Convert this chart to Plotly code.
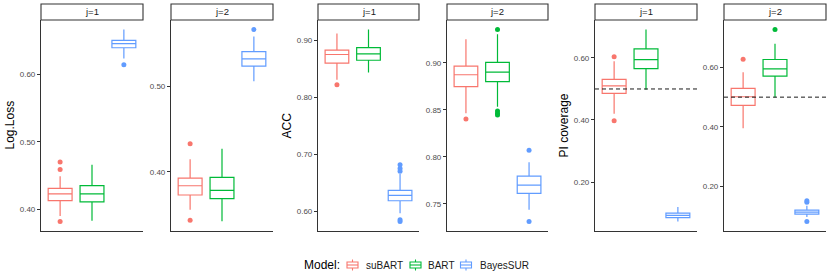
import plotly.graph_objects as go

models = ["suBART", "BART", "BayesSUR"]
colors = ["#F8766D", "#00BA38", "#619CFF"]

metrics = ["Log.Loss", "ACC", "PI coverage"]
facets = ["j=1", "j=2"]

# Box statistics per panel: [suBART, BART, BayesSUR]
# Panel order: Log.Loss j=1, Log.Loss j=2, ACC j=1, ACC j=2, PI j=1, PI j=2
q1 = [
    [0.413, 0.411, 0.639],
    [0.3727, 0.3684, 0.524],
    [0.8598, 0.865, 0.6187],
    [0.8746, 0.8799, 0.761],
    [0.486, 0.5656, 0.085],
    [0.4723, 0.5709, 0.1059],
]
median = [
    [0.423, 0.423, 0.645],
    [0.3836, 0.3781, 0.5324],
    [0.875, 0.8761, 0.628],
    [0.8873, 0.8901, 0.7698],
    [0.5097, 0.5946, 0.0925],
    [0.5014, 0.5955, 0.1126],
]
q3 = [
    [0.431, 0.435, 0.650],
    [0.3926, 0.3934, 0.541],
    [0.8826, 0.8872, 0.6368],
    [0.8965, 0.9004, 0.7794],
    [0.5312, 0.629, 0.100],
    [0.5294, 0.6269, 0.1193],
]
lower = [
    [0.390, 0.383, 0.623],
    [0.3555, 0.3418, 0.5063],
    [0.8306, 0.8434, 0.597],
    [0.8463, 0.8533, 0.7436],
    [0.4204, 0.4978, 0.0731],
    [0.395, 0.4992, 0.0958],
]
upper = [
    [0.449, 0.466, 0.666],
    [0.4148, 0.427, 0.5586],
    [0.9117, 0.9187, 0.6654],
    [0.9252, 0.9305, 0.7942],
    [0.589, 0.6914, 0.1194],
    [0.5843, 0.6796, 0.1339],
]
outliers = [
    [[0.470, 0.459, 0.382], [], [0.614]],
    [[0.4328, 0.343], [], [0.567]],
    [[0.8218], [], [0.6817, 0.6753, 0.6706, 0.5854, 0.5825]],
    [[0.8402], [0.9354, 0.8487, 0.8463, 0.8445], [0.807, 0.7312]],
    [[0.604, 0.3978], [], []],
    [[0.628], [0.7277], [0.1507, 0.1462, 0.0812]],
]
y_ranges = [
    [0.368, 0.680],
    [0.3305, 0.578],
    [0.5657, 0.9355],
    [0.721, 0.9456],
    [0.0422, 0.7223],
    [0.0489, 0.760],
]
tick_vals = [
    [0.40, 0.50, 0.60],
    [0.40, 0.50],
    [0.60, 0.70, 0.80, 0.90],
    [0.75, 0.80, 0.85, 0.90],
    [0.20, 0.40, 0.60],
    [0.20, 0.40, 0.60],
]
reference_line = 0.5  # nominal PI coverage
legend_title = "Model:"

W, H = 830, 277
panel_px = [(41, 143), (171, 273), (318, 419), (447, 548), (595, 697), (724, 826)]
plot_top, plot_bot = 20, 231
strip_top = 4
ytitle_px = [9, 286, 563]
legend_cy = 265
legend_title_x = 302
legend_key_cx = [352.5, 415.5, 466]
legend_text_x = [364, 426, 478]

font = "Liberation Sans, Arial, sans-serif"
fig = go.Figure()
layout = dict(
    width=W, height=H, margin=dict(l=0, r=0, t=0, b=0),
    paper_bgcolor="white", plot_bgcolor="white",
    font=dict(family=font, color="#1A1A1A"),
    showlegend=False,
)
shapes, annotations = [], []


def px_x(v):
    return v / W


def px_y(v):
    return (H - v) / H


for p in range(6):
    ax = "" if p == 0 else str(p + 1)
    x0, x1 = panel_px[p]
    dom_x = [px_x(x0), px_x(x1)]
    dom_y = [px_y(plot_bot), px_y(plot_top)]
    layout["xaxis" + ax] = dict(
        domain=dom_x, anchor="y" + ax, type="category",
        categoryorder="array", categoryarray=models,
        range=[-0.6, 2.6], showticklabels=False, ticks="",
        showgrid=False, zeroline=False, showline=True,
        linecolor="#333333", linewidth=1.1,
    )
    layout["yaxis" + ax] = dict(
        domain=dom_y, anchor="x" + ax, range=y_ranges[p],
        tickvals=tick_vals[p], ticktext=[f"{v:.2f}" for v in tick_vals[p]],
        ticks="outside", ticklen=3, tickwidth=1, tickcolor="#333333",
        tickfont=dict(size=8, color="#4D4D4D", family=font),
        showgrid=False, zeroline=False, showline=True,
        linecolor="#333333", linewidth=1.1,
    )
    for m, (name, col) in enumerate(zip(models, colors)):
        fig.add_trace(go.Box(
            x=[name], q1=[q1[p][m]], median=[median[p][m]], q3=[q3[p][m]],
            lowerfence=[lower[p][m]], upperfence=[upper[p][m]],
            width=0.75, whiskerwidth=0, boxpoints=False,
            line=dict(color=col, width=1.2), fillcolor="white",
            name=name, legendgroup=name, showlegend=False,
            xaxis="x" + ax, yaxis="y" + ax, hoverinfo="skip",
        ))
        if outliers[p][m]:
            fig.add_trace(go.Scatter(
                x=[name] * len(outliers[p][m]), y=outliers[p][m], mode="markers",
                marker=dict(color=col, size=5), showlegend=False,
                legendgroup=name, xaxis="x" + ax, yaxis="y" + ax, hoverinfo="skip",
            ))
    # strip
    shapes.append(dict(
        type="rect", xref="paper", yref="paper",
        x0=dom_x[0], x1=dom_x[1], y0=px_y(plot_top), y1=px_y(strip_top),
        line=dict(color="#333333", width=1.1), fillcolor="white", layer="above",
    ))
    annotations.append(dict(
        text=facets[p % 2], xref="paper", yref="paper",
        x=(dom_x[0] + dom_x[1]) / 2, y=px_y((plot_top + strip_top) / 2),
        xanchor="center", yanchor="middle", showarrow=False,
        font=dict(size=9.5, color="#1A1A1A", family=font),
    ))
    if p >= 4:
        shapes.append(dict(
            type="line", xref="x" + ax + " domain", yref="y" + ax,
            x0=0, x1=1, y0=reference_line, y1=reference_line,
            line=dict(color="#1A1A1A", width=1, dash="4px,3px"), layer="above",
        ))

for k, title in enumerate(metrics):
    annotations.append(dict(
        text=title, xref="paper", yref="paper",
        x=px_x(ytitle_px[k]), y=px_y((plot_top + plot_bot) / 2),
        xanchor="center", yanchor="middle", textangle=-90, showarrow=False,
        font=dict(size=12, color="#000000", family=font),
    ))

# legend (drawn as keys + labels, ggplot style)
annotations.append(dict(
    text=legend_title, xref="paper", yref="paper",
    x=px_x(legend_title_x), y=px_y(legend_cy), xanchor="left", yanchor="middle",
    showarrow=False, font=dict(size=12, color="#000000", family=font),
))
for name, col, cx, tx in zip(models, colors, legend_key_cx, legend_text_x):
    shapes.append(dict(
        type="line", xref="paper", yref="paper",
        x0=px_x(cx), x1=px_x(cx), y0=px_y(legend_cy - 5.5), y1=px_y(legend_cy + 5.5),
        line=dict(color=col, width=1.1),
    ))
    shapes.append(dict(
        type="rect", xref="paper", yref="paper",
        x0=px_x(cx - 5.5), x1=px_x(cx + 5.5), y0=px_y(legend_cy - 3), y1=px_y(legend_cy + 3),
        line=dict(color=col, width=1.1), fillcolor="white",
    ))
    shapes.append(dict(
        type="line", xref="paper", yref="paper",
        x0=px_x(cx - 5.5), x1=px_x(cx + 5.5), y0=px_y(legend_cy), y1=px_y(legend_cy),
        line=dict(color=col, width=1.1),
    ))
    annotations.append(dict(
        text=name, xref="paper", yref="paper",
        x=px_x(tx), y=px_y(legend_cy), xanchor="left", yanchor="middle",
        showarrow=False, font=dict(size=10, color="#1A1A1A", family=font),
    ))

layout["shapes"] = shapes
layout["annotations"] = annotations
fig.update_layout(**layout)
fig.write_html(
    "out.html",
    config={"displayModeBar": False, "staticPlot": True},
    post_script="document.body.style.margin='0px';document.body.style.padding='0px';",
)
